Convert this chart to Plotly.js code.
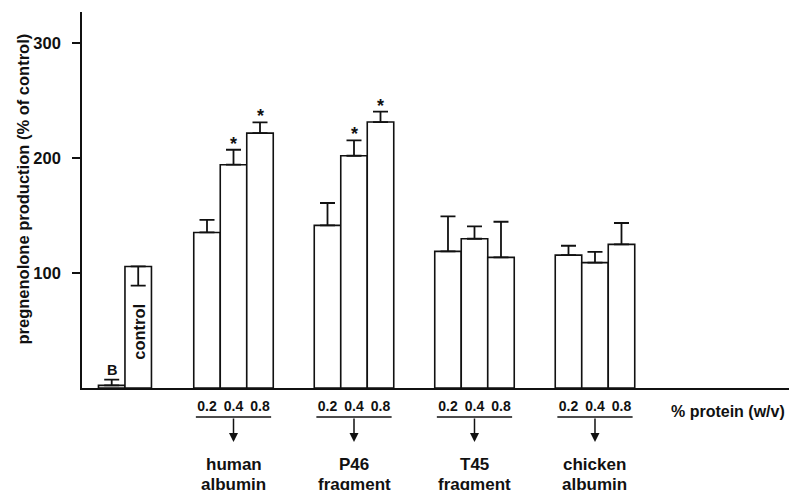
<!DOCTYPE html>
<html>
<head>
<meta charset="utf-8">
<script src="https://cdn.plot.ly/plotly-3.0.1.min.js"></script>
<style>html,body{margin:0;padding:0;background:#fff;}#chart{width:789px;height:490px;}</style>
</head>
<body>
<div id="chart"></div>
<script>
// ---- data ----
const controlLabels = ['B', 'control'];
const controlValues = [2.3, 105.7];
const controlErrPlus = [4.9, 0];
const controlErrMinus = [0, 16.7];

const concentrations = ['0.2', '0.4', '0.8'];
const groupNameLine1 = ['human', 'P46', 'T45', 'chicken'];
const groupNameLine2 = ['albumin', 'fragment', 'fragment', 'albumin'];

const humanAlbumin = [135.3, 194.2, 221.7];
const humanAlbuminErr = [11.0, 13.0, 9.3];
const p46Fragment = [141.4, 202.0, 231.3];
const p46FragmentErr = [19.5, 13.3, 9.0];
const t45Fragment = [118.8, 129.8, 113.6];
const t45FragmentErr = [30.4, 10.7, 31.0];
const chickenAlbumin = [115.6, 109.0, 124.9];
const chickenAlbuminErr = [8.1, 9.3, 18.6];

const significant = [
  [false, true, true],
  [false, true, true],
  [false, false, false],
  [false, false, false]
];

const yTicks = [100, 200, 300];
const yTitle = 'pregnenolone production (% of control)';
const xTitle = '% protein (w/v)';

// ---- layout helpers ----
const groupValues = [humanAlbumin, p46Fragment, t45Fragment, chickenAlbumin];
const groupErrors = [humanAlbuminErr, p46FragmentErr, t45FragmentErr, chickenAlbuminErr];
const groupStart = 4.596, groupGap = 4.547;
const plotL = 82, plotT = 12, plotW = 707, plotH = 376;
const px = v => (v - plotL) / plotW;
const py = v => (plotT + plotH - v) / plotH;
const FONT = '"Liberation Sans", Arial, Helvetica, sans-serif';

const xs = [], ys = [], ep = [], em = [], tickX = [], tickT = [];
controlValues.forEach((v, i) => { xs.push(i); ys.push(v); ep.push(controlErrPlus[i]); em.push(controlErrMinus[i]); });
const groupCenters = [];
groupValues.forEach((vals, g) => {
  const c = groupStart + g * groupGap;
  groupCenters.push(c);
  vals.forEach((v, j) => {
    const x = c + (j - 1);
    xs.push(x); ys.push(v); ep.push(groupErrors[g][j]); em.push(0);
    tickX.push(x); tickT.push(concentrations[j]);
  });
});

const trace = {
  type: 'bar', x: xs, y: ys, width: 1,
  marker: {color: '#ffffff', line: {color: '#111', width: 1.6}},
  error_y: {type: 'data', symmetric: false, array: ep, arrayminus: em,
            color: '#111', thickness: 1.8, width: 7.5},
  hoverinfo: 'none', showlegend: false
};

const annotations = [];
const shapes = [];
// stars
groupValues.forEach((vals, g) => {
  vals.forEach((v, j) => {
    if (significant[g][j]) {
      annotations.push({x: groupCenters[g] + (j - 1), y: v + groupErrors[g][j], xref: 'x', yref: 'y',
        text: '*', showarrow: false, yanchor: 'middle', yshift: 6,
        font: {family: FONT, size: 18, weight: 'bold', color: '#111'}});
    }
  });
});
// B label
annotations.push({x: 0, y: controlValues[0] + controlErrPlus[0], xref: 'x', yref: 'y', text: controlLabels[0],
  showarrow: false, yanchor: 'middle', yshift: 10,
  font: {family: FONT, size: 14.5, weight: 'bold', color: '#111'}});
// control label (vertical inside bar)
annotations.push({x: 1, y: py(331.5), xref: 'x', yref: 'paper', text: controlLabels[1], textangle: -90,
  showarrow: false, xanchor: 'center', yanchor: 'middle',
  font: {family: FONT, size: 16.5, weight: 'bold', color: '#111'}});
// group underline, arrow and name
groupCenters.forEach((c, g) => {
  shapes.push({type: 'line', xref: 'x', yref: 'paper', x0: c - 1.42, x1: c + 1.42, y0: py(417), y1: py(417),
    line: {color: '#111', width: 1.6}});
  annotations.push({x: c, y: py(442), xref: 'x', yref: 'paper', text: '', showarrow: true,
    ax: 0, ay: -25, arrowhead: 2, arrowsize: 1.2, arrowwidth: 1.5, arrowcolor: '#111', standoff: 0, startstandoff: 0});
  annotations.push({x: c, y: py(464), xref: 'x', yref: 'paper', text: groupNameLine1[g], showarrow: false,
    xanchor: 'center', yanchor: 'middle',
    font: {family: FONT, size: 17, weight: 'bold', color: '#111'}});
  annotations.push({x: c, y: py(484), xref: 'x', yref: 'paper', text: groupNameLine2[g], showarrow: false,
    xanchor: 'center', yanchor: 'middle',
    font: {family: FONT, size: 17, weight: 'bold', color: '#111'}});
});
// x title
annotations.push({x: px(728), y: py(411.5), xref: 'paper', yref: 'paper', text: xTitle, showarrow: false,
  xanchor: 'center', yanchor: 'middle', font: {family: FONT, size: 16, weight: 'bold', color: '#111'}});
// y title
annotations.push({x: px(23), y: py(189.5), xref: 'paper', yref: 'paper', text: yTitle, textangle: -90,
  showarrow: false, xanchor: 'center', yanchor: 'middle',
  font: {family: FONT, size: 16.5, weight: 'bold', color: '#111'}});

const layout = {
  width: 789, height: 490,
  margin: {l: plotL, r: 789 - plotL - plotW, t: plotT, b: 490 - plotT - plotH, pad: 0},
  paper_bgcolor: '#fff', plot_bgcolor: '#fff',
  font: {family: FONT, color: '#111'},
  xaxis: {range: [-1.121, -1.121 + plotW / 26.5], showgrid: false, zeroline: false,
    showline: true, linecolor: '#111', linewidth: 1.8,
    tickmode: 'array', tickvals: tickX, ticktext: tickT, ticks: '', ticklabelstandoff: 4,
    tickfont: {family: FONT, size: 14, weight: 'bold', color: '#111'}, fixedrange: true},
  yaxis: {range: [0, 327], showgrid: false, zeroline: false,
    showline: true, linecolor: '#111', linewidth: 1.8,
    tickmode: 'array', tickvals: yTicks, ticks: 'outside', ticklen: 8, tickwidth: 1.5, tickcolor: '#111',
    ticklabelstandoff: 8,
    tickfont: {family: FONT, size: 16.5, weight: 'bold', color: '#111'}, fixedrange: true},
  annotations: annotations,
  shapes: shapes,
  bargap: 0
};

Plotly.newPlot('chart', [trace], layout, {staticPlot: true, displayModeBar: false});
</script>
</body>
</html>
